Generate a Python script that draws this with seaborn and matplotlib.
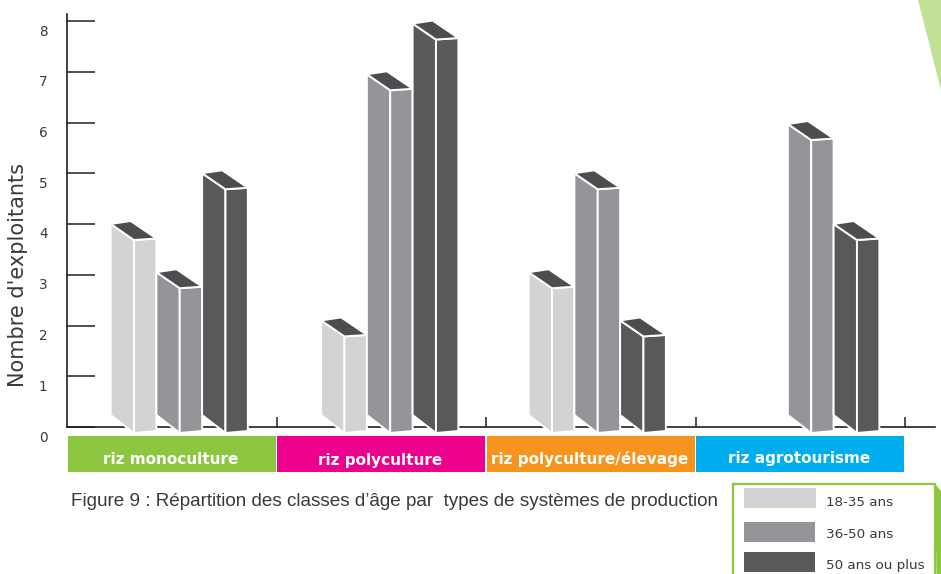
import numpy as np
import pandas as pd
import seaborn as sns
import matplotlib.pyplot as plt
from matplotlib.patches import Polygon, Rectangle
from matplotlib.transforms import IdentityTransform, ScaledTranslation

# --- Data ---
systems = ['riz monoculture', 'riz polyculture', 'riz polyculture/élevage', 'riz agrotourisme']
age_classes = ['18-35 ans', '36-50 ans', '50 ans ou plus']
young = [4.0, 2.1, 3.05, 0]
middle = [3.05, 6.95, 5.0, 5.97]
old = [5.0, 7.95, 2.1, 4.0]
y_ticks = [0, 1, 2, 3, 4, 5, 6, 7, 8]

# Configuration
W, H = 941, 574
AGE_COLORS = ['#D1D3D4', '#939598', '#58595B']
TOP_COLOR = '#4D4D4F'
BAND_COLORS = ['#8DC63F', '#EC008C', '#F7941D', '#00AEEF']
GREEN = '#8DC63F'
AXIS_COLOR = '#231F20'
TEXT_COLOR = '#3A3A3C'
# block shift in pixels relative to the category centre, one per group
GROUP_SHIFT = [7.5, 8.5, 6.5, 10.5]

sns.set_style('white')
plt.rcParams['font.family'] = ['DejaVu Sans']


def px(x, y):
    """Image pixel (origin top left) to display coordinates."""
    return (x, H - y)


def draw_3d_bar(ax, patch, color, shift):
    """Replaces a flat seaborn bar by the fake 3D box of the brochure."""
    height = patch.get_height()
    if height <= 0:
        return
    x0 = patch.get_x()
    x1 = x0 + patch.get_width()
    (xl, yt) = ax.transData.transform((x0, height))
    (xr, y0) = ax.transData.transform((x1, 0))
    xl, xr = xl + shift, xr + shift
    xm = xl + (xr - xl) * 0.51
    yt, y0 = H - yt, H - y0

    side = [px(xl, yt), px(xm, yt + 16), px(xm, y0 + 6), px(xl, y0 - 12)]
    front = [px(xm, yt + 16), px(xr, yt + 14.5), px(xr, y0 + 4), px(xm, y0 + 6)]
    top = [px(xl, yt), px(xl + 20, yt - 3), px(xr, yt + 14.5), px(xm, yt + 16)]
    for pts, c in [(side, color), (front, color), (top, TOP_COLOR)]:
        ax.add_patch(Polygon(pts, closed=True, facecolor=c, edgecolor='white', linewidth=1.4,
                             transform=IdentityTransform(), clip_on=False, zorder=4))


fig = plt.figure(figsize=(W / 100, H / 100), dpi=100)
ax = fig.add_axes([67 / W, 1 - 427 / H, (935 - 67) / W, (427 - 14) / H])

df = pd.DataFrame({
    'systeme': systems * 3,
    'age': np.repeat(age_classes, 4),
    'nombre': young + middle + old,
})
sns.barplot(data=df, x='systeme', y='nombre', hue='age', order=systems, hue_order=age_classes,
            palette=AGE_COLORS, width=0.655, gap=0, legend=False, ax=ax)

ax.set_xlim(-0.5, 3.5 + 30 / 209.5)
ax.set_ylim(0, (427 - 14) / 50.75)
ax.set_xlabel('')
ax.set_ylabel('')

for spine in ['top', 'right']:
    ax.spines[spine].set_visible(False)
for spine in ['left', 'bottom']:
    ax.spines[spine].set_color(AXIS_COLOR)
    ax.spines[spine].set_linewidth(1.2)

# ticks point inwards, the labels sit lower than the tick marks
ax.set_yticks(y_ticks)
ax.set_yticklabels([str(v) for v in y_ticks])
ax.tick_params(axis='y', direction='in', length=20, width=1.1, color=AXIS_COLOR,
               pad=14, labelsize=9.8, labelcolor=TEXT_COLOR, left=True)
for lab in ax.get_yticklabels():
    lab.set_transform(lab.get_transform() + ScaledTranslation(0, -9 / 100, fig.dpi_scale_trans))
ax.set_xticks([0.5, 1.5, 2.5, 3.5])
ax.set_xticklabels([])
ax.tick_params(axis='x', direction='in', length=7.5, width=1.1, color=AXIS_COLOR, bottom=True)

# flat bars become boxes, drawn left to right inside each group
bars = list(ax.patches)
for b in sorted(bars, key=lambda p: p.get_x()):
    idx = bars.index(b)
    group = int(round(b.get_x() + b.get_width() / 2))
    draw_3d_bar(ax, b, AGE_COLORS[idx // 4], GROUP_SHIFT[group])
    b.set_visible(False)

# coloured category bands under the axis
band_top = -(436 - 427) / (427 - 14)
band_bottom = -(472 - 427) / (427 - 14)
label_y = [459, 460, 459, 459]
for i, (name, c) in enumerate(zip(systems, BAND_COLORS)):
    ax.axvspan(i - 0.5 + 0.003, i + 0.5 - 0.003, ymin=band_bottom, ymax=band_top,
               facecolor=c, edgecolor='none', clip_on=False)
    ax.text(i - 0.005, 1 - (label_y[i] - 14) / (427 - 14), name,
            transform=ax.get_xaxis_transform(), ha='center', va='center',
            color='white', fontsize=11, fontweight='bold', clip_on=False)

fig.text(18 / W, 1 - 275 / H, "Nombre d'exploitants", rotation=90, ha='center', va='center',
         fontsize=15, color=TEXT_COLOR)
fig.text(71 / W, 1 - 501 / H, "Figure 9 : Répartition des classes d’âge par  types de systèmes de production",
         ha='left', va='center', fontsize=13.6, color=TEXT_COLOR, family='Liberation Sans')

# page decoration, top right corner
fig.patches.append(Polygon([(918 / W, 1), (1, 1), (1, 1 - 90 / H)], closed=True, facecolor='#C2E196',
                           edgecolor='none', transform=fig.transFigure))

# legend box, cut by the bottom of the page
fig.patches.append(Rectangle((733 / W, -0.02), (935 - 733) / W, (574 - 484) / H + 0.02, facecolor='white',
                             edgecolor=GREEN, linewidth=1.6, transform=fig.transFigure))
fig.patches.append(Polygon([(935 / W, 1 - 484 / H), (1, 1 - 491 / H), (1, 0), (936.5 / W, 0)], closed=True,
                           facecolor=GREEN, edgecolor='none', transform=fig.transFigure))
swatch_y = [488, 522, 552]
swatch_w = [72, 71, 71]
text_y = [503, 534, 565]
for label, c, sy, sw, ty in zip(age_classes, AGE_COLORS, swatch_y, swatch_w, text_y):
    fig.patches.append(Rectangle((744 / W, 1 - (sy + 20) / H), sw / W, 20 / H, facecolor=c,
                                 edgecolor='none', transform=fig.transFigure))
    fig.text(826 / W, 1 - ty / H, label, ha='left', va='center', fontsize=9.7, color=TEXT_COLOR)

fig.savefig('out.png', dpi=100, facecolor='white')
